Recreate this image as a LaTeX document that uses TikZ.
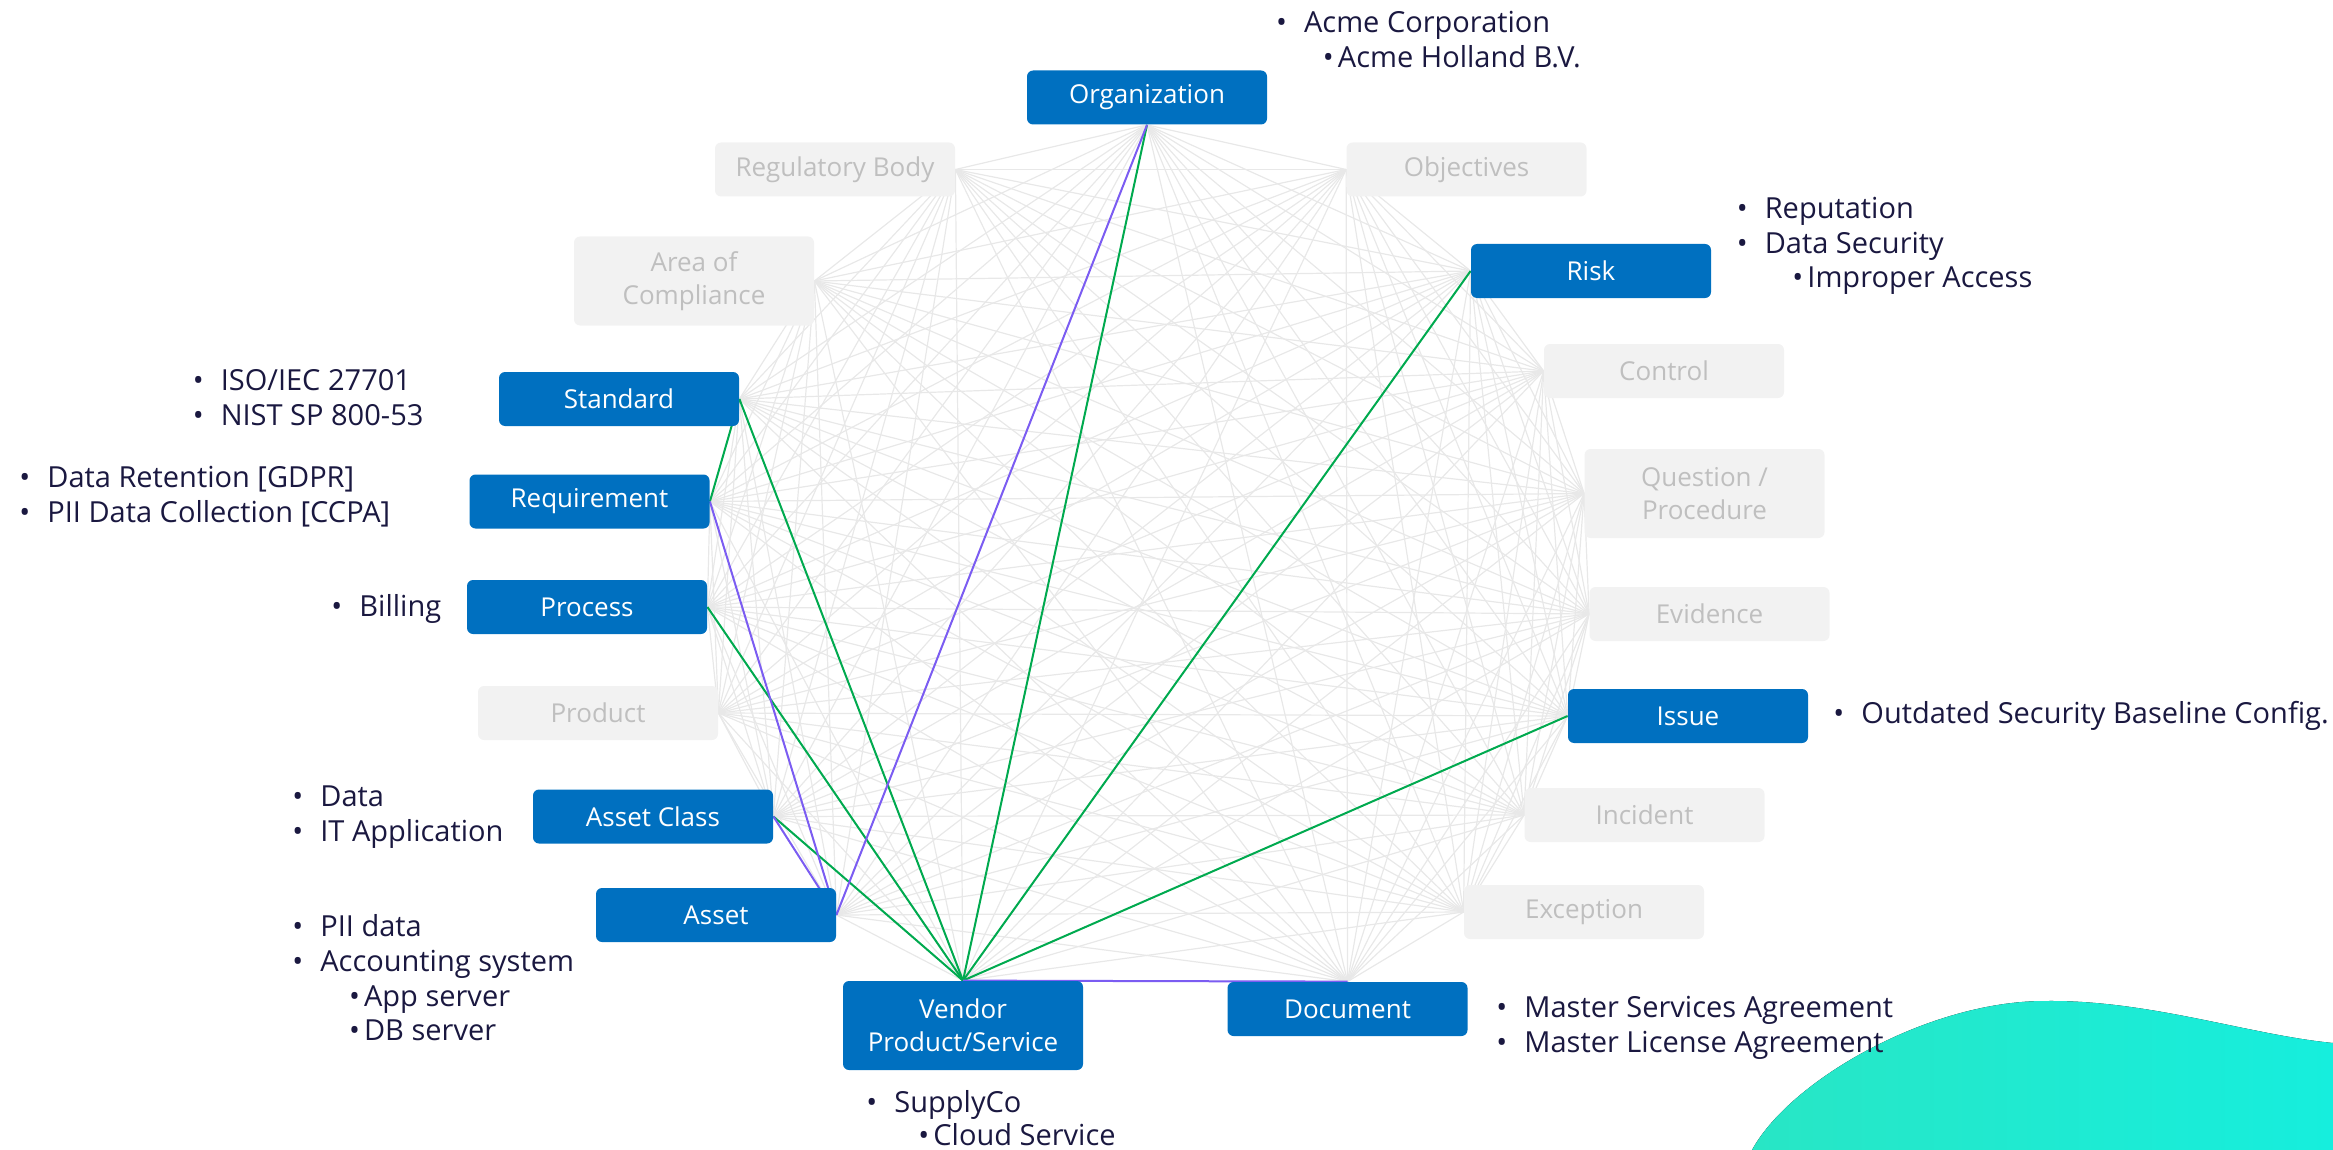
\documentclass[tikz,border=0pt]{standalone}
\usepackage{fontspec}
\setmainfont{Open Sans}
\definecolor{boxblue}{HTML}{0070C0}
\definecolor{boxgray}{HTML}{F2F2F2}
\definecolor{txtgray}{HTML}{BFBFBF}
\definecolor{navy}{HTML}{1A1840}
\definecolor{meshgray}{HTML}{E8E8E8}
\definecolor{lgreen}{HTML}{00AA4F}
\definecolor{lpurple}{HTML}{7B5CF2}
\definecolor{tealA}{HTML}{28E6C5}
\definecolor{tealB}{HTML}{16EEDD}
\pgfdeclarelayer{bg}
\pgfdeclarelayer{edges}
\pgfsetlayers{bg,edges,main}
\newcommand\bA{\makebox[14pt][l]{•}}
\newcommand\bB{\makebox[7.5pt][l]{•}}
\begin{document}
\begin{tikzpicture}[x=0.5pt,y=-0.5pt,
  basebox/.style={rectangle, rounded corners=3pt, minimum width=120pt, minimum height=27pt, inner sep=0pt, align=center, font=\fontsize{13}{16.3}\selectfont},
  bluebox/.style={basebox, fill=boxblue, text=white},
  graybox/.style={basebox, fill=boxgray, text=txtgray},
  tall/.style={minimum height=44.5pt},
  btext/.style={anchor=base west, inner sep=0pt, text=navy, font=\fontsize{14.5}{17}\selectfont},
  mesh/.style={draw=meshgray, line width=0.6pt},
  gline/.style={draw=lgreen, line width=1pt},
  pline/.style={draw=lpurple, line width=1pt}]
\useasboundingbox (0,0) rectangle (2333,1150);
% nodes
\node[bluebox] (org) at (1147,97.5) {Organization};
\node[graybox] (reg) at (835,169.5) {Regulatory Body};
\node[graybox] (obj) at (1466.5,169.5) {Objectives};
\node[graybox,tall] (area) at (694,281) {Area of\\Compliance};
\node[bluebox] (risk) at (1591,271) {Risk};
\node[bluebox] (std) at (619,399) {Standard};
\node[graybox] (ctl) at (1664,371) {Control};
\node[bluebox] (req) at (589.5,501.5) {Requirement};
\node[graybox,tall] (que) at (1704.5,493.5) {Question /\\Procedure};
\node[bluebox] (proc) at (587,607) {Process};
\node[graybox] (evi) at (1709.5,614) {Evidence};
\node[graybox] (prod) at (598,713) {Product};
\node[bluebox] (iss) at (1688,716) {Issue};
\node[bluebox] (acl) at (653,816.5) {Asset Class};
\node[graybox] (inc) at (1644.5,815) {Incident};
\node[bluebox] (ast) at (716,915) {Asset};
\node[graybox] (exc) at (1584,912) {Exception};
\node[bluebox,tall] (ven) at (963,1025.5) {Vendor\\Product/Service};
\node[bluebox] (doc) at (1347.5,1009) {Document};
% anchors
\coordinate (p1) at (org.south);
\coordinate (p2) at (reg.east);
\coordinate (p3) at (obj.west);
\coordinate (p4) at (area.east);
\coordinate (p5) at (risk.west);
\coordinate (p6) at (std.east);
\coordinate (p7) at (ctl.west);
\coordinate (p8) at (req.east);
\coordinate (p9) at (que.west);
\coordinate (p10) at (proc.east);
\coordinate (p11) at (evi.west);
\coordinate (p12) at (prod.east);
\coordinate (p13) at (iss.west);
\coordinate (p14) at (acl.east);
\coordinate (p15) at (inc.west);
\coordinate (p16) at (ast.east);
\coordinate (p17) at (exc.west);
\coordinate (p18) at (ven.north);
\coordinate (p19) at (doc.north);
% background blob
\begin{pgfonlayer}{bg}
\fill[left color=tealA, right color=tealB] (1752,1150) .. controls (1790,1080) and (1930,1000) .. (2047,1001) .. controls (2150,1000) and (2250,1035) .. (2333,1043) -- (2333,1150) -- cycle;
\end{pgfonlayer}
% edges
\begin{pgfonlayer}{edges}
\foreach \i in {1,...,18}{
  \pgfmathtruncatemacro\js{\i+1}
  \foreach \j in {\js,...,19}{\draw[mesh] (p\i) -- (p\j);}
}
\draw[gline] (ven.north) -- (org.south);
\draw[gline] (ven.north) -- (risk.west);
\draw[gline] (ven.north) -- (std.east);
\draw[gline] (ven.north) -- (proc.east);
\draw[gline] (ven.north) -- (acl.east);
\draw[gline] (ven.north) -- (iss.west);
\draw[gline] (req.east) -- (std.east);
\draw[pline] (org.south) -- (ast.east);
\draw[pline] (req.east) -- (ast.east);
\draw[pline] (acl.east) -- (ast.east);
\draw[pline] (ven.north) -- (doc.north);
\end{pgfonlayer}
% bullet texts
\node[btext] (o1) at (1275.7,33) {\bA Acme Corporation};
\node[btext] (o2) at (1322.5,67.7) {\bB Acme Holland B.V.};
\node[btext] (r1) at (1736.4,219) {\bA Reputation};
\node[btext] (r2) at (1736.4,254) {\bA Data Security};
\node[btext] (r3) at (1792,287.7) {\bB Improper Access};
\node[btext] (s1) at (192.4,390) {\bA ISO/IEC 27701};
\node[btext] (s2) at (192.4,425) {\bA NIST SP 800-53};
\node[btext] (q1) at (19,487) {\bA Data Retention [GDPR]};
\node[btext] (q2) at (19,522.7) {\bA PII Data Collection [CCPA]};
\node[btext] (b1) at (331,616) {\bA Billing};
\node[btext] (i1) at (1833,723.5) {\bA Outdated Security Baseline Config.};
\node[btext] (c1) at (292,806.7) {\bA Data};
\node[btext] (c2) at (292,841.7) {\bA IT Application};
\node[btext] (a1) at (292,936.7) {\bA PII data};
\node[btext] (a2) at (292,971.7) {\bA Accounting system};
\node[btext] (a3) at (348.7,1006) {\bB App server};
\node[btext] (a4) at (348.7,1040) {\bB DB server};
\node[btext] (d1) at (1496,1017) {\bA Master Services Agreement};
\node[btext] (d2) at (1496,1052) {\bA Master License Agreement};
\node[btext] (v1) at (866,1112.7) {\bA SupplyCo};
\node[btext] (v2) at (918,1145) {\bB Cloud Service};
\end{tikzpicture}
\end{document}
